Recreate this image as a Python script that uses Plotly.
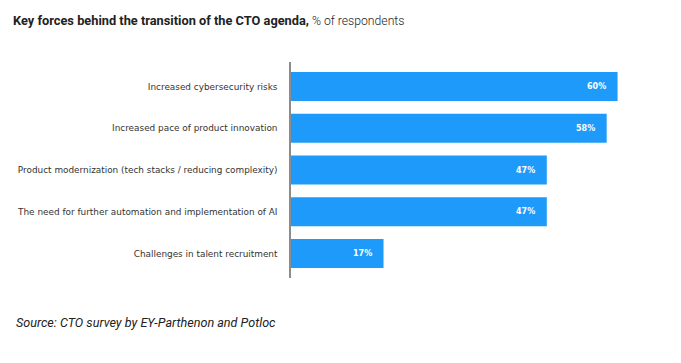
import plotly.graph_objects as go

categories = [
    "Increased cybersecurity risks",
    "Increased pace of product innovation",
    "Product modernization (tech stacks / reducing complexity)",
    "The need for further automation and implementation of AI",
    "Challenges in talent recruitment",
]
values = [60, 58, 47, 47, 17]
labels = ["60%", "58%", "47%", "47%", "17%"]

BLUE = "#1e9bfa"
W, H = 673, 355
L, R, T, B = 283, 9, 54, 85
PW = W - L - R
PH = H - T - B

fig = go.Figure()
fig.add_trace(go.Bar(
    y=categories, x=values, orientation="h",
    marker=dict(color=BLUE, line=dict(width=0)),
    hoverinfo="skip",
))

fig.update_layout(
    width=W, height=H,
    margin=dict(l=L, r=R, t=T, b=B, autoexpand=False),
    paper_bgcolor="white", plot_bgcolor="white",
    showlegend=False,
    bargap=0.305,
    xaxis=dict(range=[0, 70], visible=False, automargin=False),
    yaxis=dict(autorange=False, range=[4.587, -0.587], type="category",
               categoryorder="array", categoryarray=categories,
               automargin=False,
               showline=True, linecolor="#8c8c8c", linewidth=1.5,
               showgrid=False, zeroline=False, ticks="",
               ticklabelstandoff=10,
               tickfont=dict(family="DejaVu Sans", size=8.9, color="#333333")),
)

for c, v, t in zip(categories, values, labels):
    fig.add_annotation(x=v, y=c, xref="x", yref="y", text="<b>%s</b>" % t,
                       showarrow=False, xanchor="right", xshift=-10,
                       font=dict(family="DejaVu Sans", size=8, color="white"))

fig.add_annotation(
    xref="paper", yref="paper", x=-L / PW, y=1, xanchor="left", yanchor="middle",
    xshift=3, yshift=(T - 12),
    text="<b>Key forces behind the transition of the CTO agenda,</b>"
         "<span style='font-weight:300;font-size:12.2px'> % of respondents</span>",
    showarrow=False,
    font=dict(family="Roboto", size=12.8, color="#222222"),
)
fig.add_annotation(
    xref="paper", yref="paper", x=-L / PW, y=0, xanchor="left", yanchor="middle",
    xshift=6, yshift=-44,
    text="<i>Source: CTO survey by EY-Parthenon and Potloc</i>",
    showarrow=False, font=dict(family="Roboto", size=12.6, color="#222222"),
)

fig.write_html("out.html")
